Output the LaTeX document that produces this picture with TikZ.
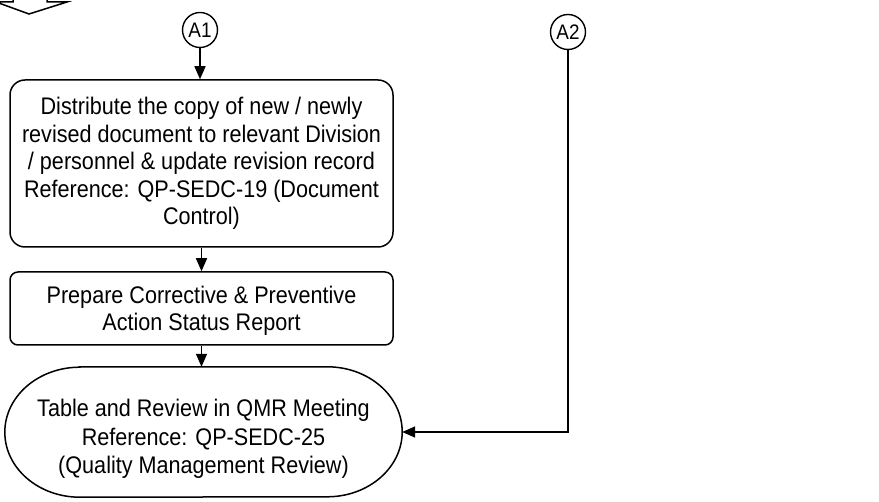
\documentclass[tikz,border=0pt]{standalone}
\usepackage{fontspec}
\setmainfont[FakeStretch=0.9]{Liberation Sans}
\usetikzlibrary{arrows.meta}
\begin{document}
\begin{tikzpicture}[x=1pt,y=-1pt,
  line/.style={line width=1.5pt, black},
  arr/.style={line width=1.5pt, -{Triangle[width=11pt,length=13pt]}},
  conn/.style={circle, draw, line width=1.4pt, minimum size=35pt, inner sep=0pt, font=\fontsize{21}{24}\selectfont},
  procbox/.style={draw, line width=1.5pt, align=center, inner sep=0pt, font=\fontsize{24}{27.5}\selectfont},
  termtext/.style={align=center, inner sep=0pt, font=\fontsize{24}{28.5}\selectfont}]
\useasboundingbox (0,0) rectangle (879,502);
\begin{scope}
\clip (0,0) rectangle (879,502);
\draw[line] (13,-6) -- (13,2) -- (-4,2) -- (29,14) -- (67,2) -- (47,2) -- (47,-6);
\end{scope}

\node[conn] (A1) at (200,30) {A1};
\node[conn] (A2) at (568,32) {A2};

\node[procbox, rounded corners=15pt, minimum width=383pt, minimum height=167pt] (box1) at (201.5,163.5)
 {Distribute the copy of new / newly\\
  revised document to relevant Division\\
  / personnel \& update revision record\\
  Reference: QP-SEDC-19 (Document\\
  Control)};

\node[procbox, rounded corners=8pt, minimum width=383pt, minimum height=73pt, text depth=0pt] (box2) at (201.5,308.5)
 {\rule{0pt}{4pt}Prepare Corrective \& Preventive\\
  Action Status Report};

\node[minimum width=397pt, minimum height=130pt, inner sep=0pt] (term) at (203.5,432) {};
\draw[line] ([xshift=75pt]term.north west) -- ([xshift=-75pt]term.north east)
  arc[start angle=90, end angle=-90, x radius=75pt, y radius=65pt]
  -- ([xshift=75pt]term.south west)
  arc[start angle=270, end angle=90, x radius=75pt, y radius=65pt] -- cycle;
\node[termtext] (termlabel) at ([yshift=-7pt]term.center)
 {Table and Review in QMR Meeting\\
  Reference: QP-SEDC-25\\
  (Quality Management Review)};

\draw[arr] (A1.south) -- (A1.south |- box1.north);
\draw[arr] (box1.south) -- (box2.north);
\draw[arr] (box2.south) -- (box2.south |- term.north);
\draw[arr] (A2.south) |- (term.east);
\end{tikzpicture}
\end{document}
